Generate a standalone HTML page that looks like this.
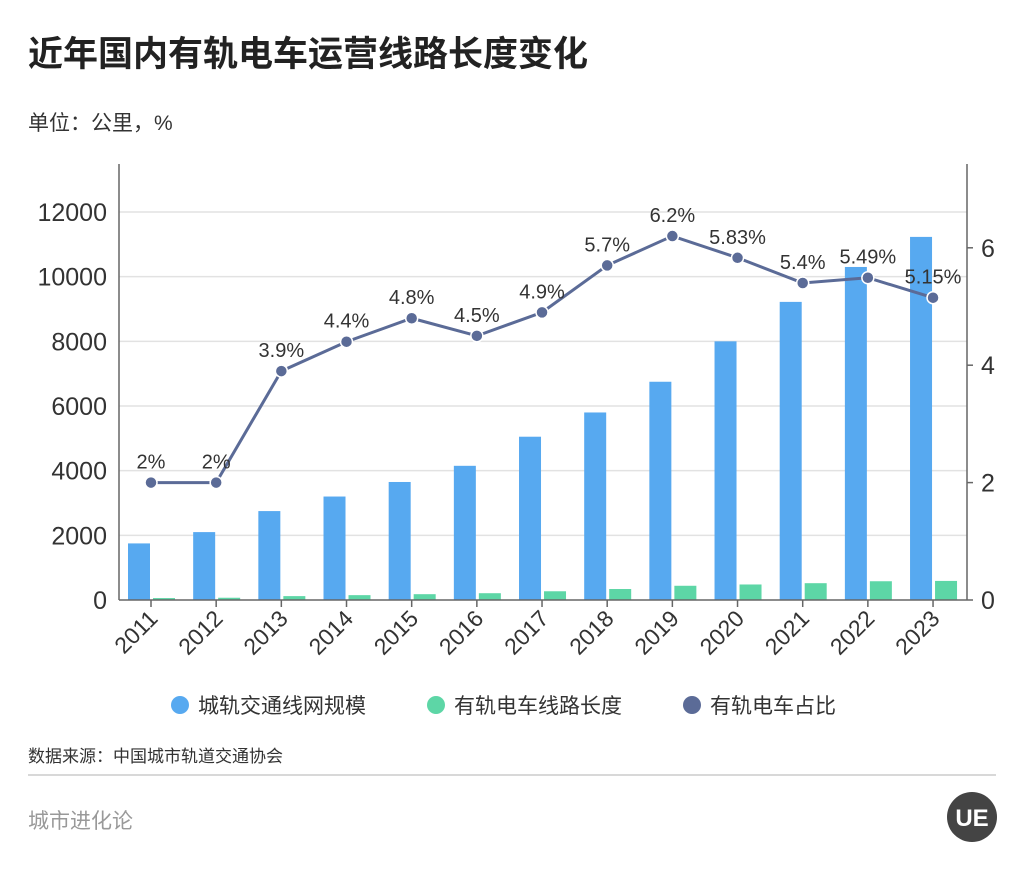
<!DOCTYPE html>
<html><head><meta charset="utf-8"><style>
body{margin:0;width:1024px;height:871px;background:#fff;overflow:hidden;font-family:"Liberation Sans","Noto Sans CJK SC",sans-serif;}
</style></head><body>
<svg width="1024" height="871" xmlns="http://www.w3.org/2000/svg" style="font-family:'Liberation Sans','Noto Sans CJK SC',sans-serif">
<text x="28" y="66" font-size="35" font-weight="bold" fill="#222">近年国内有轨电车运营线路长度变化</text>
<text x="28" y="130" font-size="21" fill="#333">单位：公里，%</text>
<g id="plot"></g>
<g>
<circle cx="180" cy="705" r="9" fill="#57A9F0"/>
<text x="198" y="713" font-size="21" fill="#333">城轨交通线网规模</text>
<circle cx="436" cy="705" r="9" fill="#5DD6A6"/>
<text x="454" y="713" font-size="21" fill="#333">有轨电车线路长度</text>
<circle cx="692" cy="705" r="9" fill="#5B6B97"/>
<text x="710" y="713" font-size="21" fill="#333">有轨电车占比</text>
</g>
<text x="28" y="762" font-size="17" fill="#333">数据来源：中国城市轨道交通协会</text>
<line x1="28" y1="775" x2="996" y2="775" stroke="#ccc" stroke-width="1.5"/>
<text x="28" y="828" font-size="21" fill="#999">城市进化论</text>
<circle cx="972" cy="817" r="25" fill="#444"/>
<text x="972" y="826" font-size="24" font-weight="bold" fill="#fff" text-anchor="middle">UE</text>
</svg>
<script>
const years=["2011","2012","2013","2014","2015","2016","2017","2018","2019","2020","2021","2022","2023"];
const networkKm=[1750,2100,2750,3200,3650,4150,5050,5800,6750,8000,9220,10300,11230];
const tramKm=[60,70,120,150,180,210,270,340,440,480,520,580,590];
const tramShare=[2,2,3.9,4.4,4.8,4.5,4.9,5.7,6.2,5.83,5.4,5.49,5.15];
const shareLabels=["2%","2%","3.9%","4.4%","4.8%","4.5%","4.9%","5.7%","6.2%","5.83%","5.4%","5.49%","5.15%"];
const leftTicks=[0,2000,4000,6000,8000,10000,12000];
const rightTicks=[0,2,4,6];
const NS="http://www.w3.org/2000/svg";
const g=document.getElementById('plot');
const X0=119,X1=967,Y0=600;
const xC=i=>151+i*65.17;
const yL=v=>Y0-v*388/12000;
const yR=v=>Y0-v*58.7;
function mk(t,a){const e=document.createElementNS(NS,t);for(const k in a)e.setAttribute(k,a[k]);g.appendChild(e);return e;}
leftTicks.forEach(v=>{
 if(v>0){const l=mk('line',{x1:X0,x2:X1,y1:yL(v),y2:yL(v),stroke:'#e2e2e2','stroke-width':1.5});
 
 }
 const t=mk('text',{x:X0-12,y:yL(v)+9,'font-size':25,fill:'#333','text-anchor':'end'});t.textContent=v;
 
 
});
rightTicks.forEach(v=>{
 const l=mk('line',{x1:X1,x2:X1+6,y1:yR(v),y2:yR(v),stroke:'#666','stroke-width':1.5});
 
 
 const t=mk('text',{x:X1+14,y:yR(v)+9,'font-size':25,fill:'#333'});t.textContent=v;
 
 
});
years.forEach((y,i)=>{
 const b=mk('rect',{x:xC(i)-23,y:yL(networkKm[i]),width:22,height:Y0-yL(networkKm[i]),fill:'#57A9F0'});
 
 
 const c=mk('rect',{x:xC(i)+2,y:yL(tramKm[i]),width:22,height:Y0-yL(tramKm[i]),fill:'#5DD6A6'});
 
 
 const tk=mk('line',{x1:xC(i),x2:xC(i),y1:Y0,y2:Y0+7,stroke:'#666','stroke-width':1.5});
 
 
 const t=mk('text',{x:xC(i)+8,y:Y0+20,'font-size':23,fill:'#333','text-anchor':'end',transform:`rotate(-45 ${xC(i)+8} ${Y0+20})`});t.textContent=y;
 
 
});
const ax1=mk('line',{x1:X0,x2:X0,y1:164,y2:Y0,stroke:'#666','stroke-width':1.5});


const ax2=mk('line',{x1:X1,x2:X1,y1:164,y2:Y0,stroke:'#666','stroke-width':1.5});


const ax3=mk('line',{x1:X0,x2:X1,y1:Y0,y2:Y0,stroke:'#666','stroke-width':1.5});


const pl=mk('polyline',{points:tramShare.map((v,i)=>xC(i)+','+yR(v)).join(' '),fill:'none',stroke:'#5B6B97','stroke-width':3});


tramShare.forEach((v,i)=>{
 const p=mk('circle',{cx:xC(i),cy:yR(v),r:6,fill:'#5B6B97',stroke:'#fff','stroke-width':1.5});
 
 
 const t=mk('text',{x:xC(i),y:yR(v)-14,'font-size':20,fill:'#333','text-anchor':'middle'});t.textContent=shareLabels[i];
 
 
});
</script>
</body></html>
